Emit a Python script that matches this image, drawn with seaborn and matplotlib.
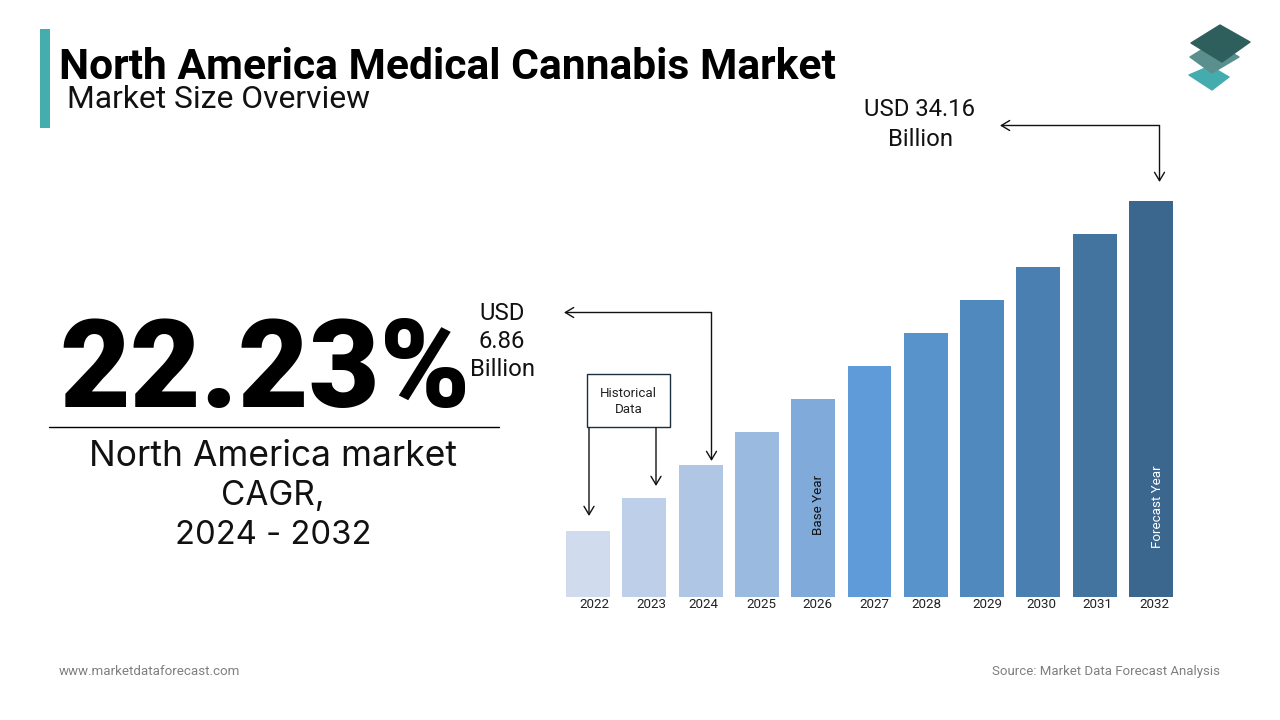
import matplotlib
matplotlib.use("Agg")
import matplotlib.pyplot as plt
from matplotlib.patches import Polygon, Rectangle
from matplotlib.transforms import ScaledTranslation
import seaborn as sns
import pandas as pd

years = ["2022","2023","2024","2025","2026","2027","2028","2029","2030","2031","2032"]
values = [5.69,8.54,11.39,14.23,17.08,19.93,22.77,25.62,28.47,31.31,34.16]
colors = ["#D0DCEE","#BED0E9","#AFC7E4","#9ABADF","#7FAADA","#5F9BD8","#5893CB","#5089BE","#4A80B1","#4374A0","#3B668E"]
label_shift_px = [6,7,3,4,4,5,1,5,3,3,3]

sns.set_theme(style="white")
plt.rcParams['font.family'] = ['Roboto', 'DejaVu Sans']

fig = plt.figure(figsize=(12.8,7.2), dpi=100, facecolor="white")
W, H = 1280, 720

def axrect(x0,y0,x1,y1):
    return [x0/W, 1-y1/H, (x1-x0)/W, (y1-y0)/H]

# bars
ax = fig.add_axes(axrect(566,201,1173,597))
df = pd.DataFrame({"year":years,"value":values})
sns.barplot(data=df, x="year", y="value", hue="year", palette=colors, legend=False,
            width=0.78, saturation=1, linewidth=0, ax=ax)
ax.set_xlim(-0.39,10.39)
ax.set_ylim(0,max(values))
ax.set_xlabel(""); ax.set_ylabel("")
ax.set_yticks([])
ax.tick_params(axis="x", length=0, pad=1, labelsize=9.6, labelcolor="#222222")
for lab, dx in zip(ax.get_xticklabels(), label_shift_px):
    lab.set_transform(lab.get_transform()+ScaledTranslation(dx/100,0,fig.dpi_scale_trans))
sns.despine(ax=ax,left=True,bottom=True)
ax.text(4,values[4]*0.465,"Base Year",rotation=90,ha="center",va="center",fontsize=9.6,color="#111111",
        transform=ax.transData+ScaledTranslation(5.5/100,0,fig.dpi_scale_trans))
ax.text(10,values[10]*0.228,"Forecast Year",rotation=90,ha="center",va="center",fontsize=9.6,color="white",
        transform=ax.transData+ScaledTranslation(6.5/100,0,fig.dpi_scale_trans))

# pixel overlay
ov = fig.add_axes([0,0,1,1],zorder=5)
ov.set_xlim(0,W); ov.set_ylim(H,0); ov.axis("off"); ov.patch.set_alpha(0)

ov.add_patch(Rectangle((40,29),10,99,fc="#44ADAE",ec="none"))
ov.text(59,67.5,"North America Medical Cannabis Market",fontsize=30.7,fontweight="bold",color="black",va="center",ha="left")
ov.text(67,99,"Market Size Overview",fontsize=22.9,color="#111111",va="center",ha="left")

ov.text(265,373,"22.23%",fontsize=88,fontweight="black",color="black",va="center",ha="center")
ov.plot([49,499],[427,427],color="black",lw=1)
for txt,y,fs in (("North America market",456,25.5),("CAGR,",496,24),("2024 - 2032",536,23.6)):
    ov.text(273,y,txt,fontsize=fs,family=["Inter","DejaVu Sans"],color="#111111",va="center",ha="center")

for txt,y in (("USD",313),("6.86",342),("Billion",370)):
    ov.text(502,y,txt,fontsize=17.2,color="#111111",va="center",ha="center")
ov.text(920,110,"USD 34.16",fontsize=17.2,color="#111111",va="center",ha="center")
ov.text(920,139,"Billion",fontsize=17.2,color="#111111",va="center",ha="center")

style = dict(arrowstyle="->,head_length=0.5,head_width=0.3",color="#111111",lw=1,shrinkA=0,shrinkB=0)
for tip,start in (((564,312.5),(711.5,312.5)),((711.5,461),(711.5,312.5)),((1000,125.5),(1159.5,125.5)),((1159.5,182),(1159.5,125.5)),
                  ((589,516),(589,428)),((656,486),(656,428))):
    ov.annotate("",xy=tip,xytext=start,arrowprops=style)

ov.add_patch(Rectangle((587,374),82.5,53,fc="white",ec="#1B2F40",lw=1))
ov.text(628.5,393.5,"Historical",fontsize=9.6,color="#222222",ha="center",va="center")
ov.text(628.5,409.5,"Data",fontsize=9.6,color="#222222",ha="center",va="center")

ov.text(59,671.5,"www.marketdataforecast.com",fontsize=9.6,color="#7F7F7F",va="center",ha="left")
ov.text(1220,671.5,"Source: Market Data Forecast Analysis",fontsize=9.55,color="#7F7F7F",va="center",ha="right")

# logo
ov.add_patch(Polygon([(1210,66),(1229,77),(1212,90),(1189,75)],closed=True,fc="#45ACAE",ec="#45ACAE",lw=1,joinstyle="round"))
ov.add_patch(Polygon([(1214,42),(1239,57),(1212,73),(1190,57)],closed=True,fc="#5A8F8D",ec="#5A8F8D",lw=1,joinstyle="round"))
ov.add_patch(Polygon([(1220,25),(1250,42),(1222,62),(1191,43)],closed=True,fc="#2F5F5D",ec="#2F5F5D",lw=1,joinstyle="round"))

fig.savefig("out.png",dpi=100,facecolor="white")
